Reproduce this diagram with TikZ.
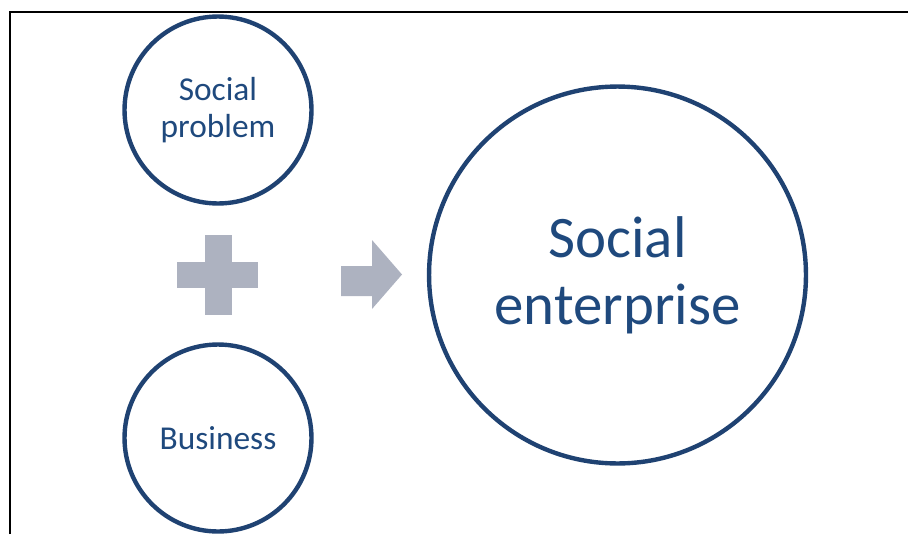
\documentclass[tikz,border=0pt]{standalone}
\usepackage{fontspec}
\setmainfont{Carlito}
\usetikzlibrary{shapes.arrows}
\definecolor{ringblue}{RGB}{31,66,114}
\definecolor{textblue}{RGB}{31,73,125}
\definecolor{signgray}{RGB}{173,178,192}
\tikzset{
	ring/.style={circle,draw=ringblue,line width=2.5pt,inner sep=0pt,text=textblue,align=center},
	smallring/.style={ring,minimum size=3.74cm,font=\fontsize{19}{21.5}\selectfont},
	bigring/.style={ring,minimum size=7.54cm,font=\fontsize{33.5}{38}\selectfont}
}
\begin{document}
\begin{tikzpicture}[x=0.02cm,y=-0.02cm]
		\useasboundingbox (0,0) rectangle (908,534);
		\draw[line width=1.3pt] (10,534) -- (10,12) -- (908,12);
		\node[smallring] (problem) at (218,110) {Social\\problem};
		\node[smallring] (business) at (218,438) {Business};
		\node[bigring] (enterprise) at (617.5,275) {Social\\enterprise};
		\fill[signgray] (177,262) rectangle (258,288);
		\fill[signgray] (204.5,235) rectangle (231.5,315);
		\fill[signgray] (341,266) -- (372,266) -- (372,240) -- (402,274.5) -- (372,309) -- (372,296) -- (341,296) -- cycle;
	\end{tikzpicture}
\end{document}
